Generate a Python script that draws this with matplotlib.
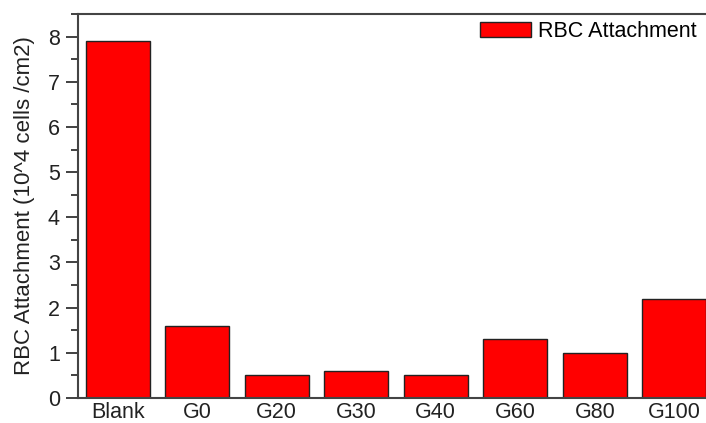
import matplotlib
matplotlib.use("Agg")
import matplotlib.pyplot as plt
from matplotlib.ticker import MultipleLocator

plt.rcParams["font.family"] = ["Liberation Sans", "DejaVu Sans"]

samples = ["Blank", "G0", "G20", "G30", "G40", "G60", "G80", "G100"]
attachment = [7.9, 1.6, 0.5, 0.6, 0.5, 1.3, 1.0, 2.2]

fig = plt.figure(figsize=(7.06, 4.23), dpi=100)
# axes run slightly past the right edge of the canvas
ax = fig.add_axes([78 / 706, 25 / 423, 636 / 706, 384 / 423])

x = range(len(samples))
ax.bar(x, attachment, width=0.8, color="#ff0000", edgecolor="#222222",
       linewidth=1.0, label="RBC Attachment")

ax.set_xlim(-0.5, 7.5)
ax.set_ylim(0, 8.5)
ax.set_xticks(list(x))
ax.set_xticklabels(samples)
ax.yaxis.set_major_locator(MultipleLocator(1))
ax.yaxis.set_minor_locator(MultipleLocator(0.5))

ax.tick_params(axis="y", which="major", direction="out", length=9, width=1.3,
               labelsize=15.5, colors="#333333", labelcolor="#222222", pad=4)
ax.tick_params(axis="y", which="minor", direction="out", length=5, width=1.3,
               colors="#333333")
ax.tick_params(axis="x", length=0, labelsize=15.5, labelcolor="#222222", pad=3)

for side in ["left", "bottom", "top"]:
    ax.spines[side].set_linewidth(1.5)
    ax.spines[side].set_color("#444444")
ax.spines["right"].set_visible(False)

ax.set_ylabel("RBC Attachment (10^4 cells /cm2)", fontsize=16, color="#222222",
              labelpad=9)

leg = ax.legend(loc="upper right", bbox_to_anchor=(0.986, 1.004), frameon=False,
                fontsize=15.5, handlelength=2.4, handleheight=0.75,
                handletextpad=0.3, borderaxespad=0.0)

fig.savefig("out.png", dpi=100)
